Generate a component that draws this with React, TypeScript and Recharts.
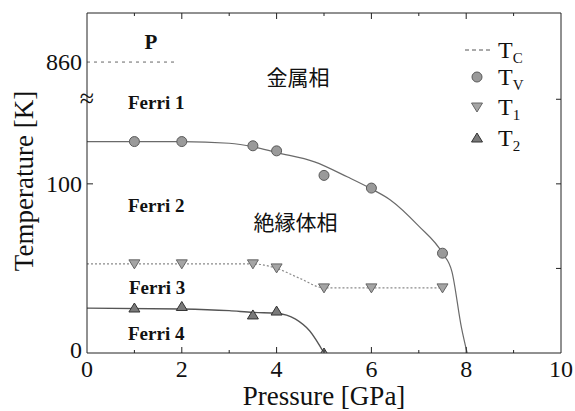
import React from 'react';
import { ComposedChart, Line, Scatter, XAxis, YAxis, ReferenceDot, Label } from 'recharts';

// ---- data ----
const tvPressure = [1, 2, 3.5, 4, 5, 6, 7.5];
const tvTemp = [125, 125, 122.5, 119.5, 105, 97.5, 59];
const t1Pressure = [1, 2, 3.5, 4, 5, 6, 7.5];
const t1Temp = [52.7, 52.7, 52.7, 50.3, 38.5, 38.5, 38.5];
const t2Pressure = [1, 2, 3.5, 4, 5];
const t2Temp = [26.6, 27.5, 22.5, 24.8, 0];

const tvCurveP = [0, 2, 3, 3.5, 4, 4.8, 5.5, 6, 6.4, 7, 7.5, 7.7, 7.9, 8.02];
const tvCurveT = [125, 125, 124, 122, 118.5, 113, 104, 97, 90.5, 75, 59, 48, 15, 0];
const t1CurveP = [0, 3.5, 4, 4.5, 5, 7.5];
const t1CurveT = [52.7, 52.7, 50, 44, 38.5, 38.5];
const t2CurveP = [0, 2, 3, 3.5, 4, 4.4, 4.7, 5];
const t2CurveT = [26.5, 26, 25, 24, 23.5, 20, 13, 0];
const tcPressure = [0, 1.85];
const tcTemp = [860, 860];

const xTicks = [0, 1, 2, 3, 4, 5, 6, 7, 8, 9, 10];
const yTickValues = [0, 100, 150, 860];
const yTickLabels = ['0', '100', '≈', '860'];
const rightTickValues = [50, 100, 150];

const phaseLabels = [
  { text: 'P', p: 1.35, t: 184, size: 21, bold: true, jp: false },
  { text: 'Ferri 1', p: 1.46, t: 148.5, size: 19, bold: true, jp: false },
  { text: 'Ferri 2', p: 1.46, t: 87.6, size: 19, bold: true, jp: false },
  { text: 'Ferri 3', p: 1.48, t: 39, size: 19, bold: true, jp: false },
  { text: 'Ferri 4', p: 1.46, t: 11.8, size: 19, bold: true, jp: false },
  { text: '金属相', p: 4.45, t: 162.7, size: 21, bold: false, jp: true },
  { text: '絶縁体相', p: 4.4, t: 77, size: 21, bold: false, jp: true },
];

// broken axis: values above the break are shifted down so 860 sits just under the top
const toAxis = (t: number) => (t > 200 ? t - 688 : t);
const zip = (ps: number[], ts: number[]) => ps.map((p, i) => ({ p, t: toAxis(ts[i]) }));

const tvData = zip(tvPressure, tvTemp);
const t1Data = zip(t1Pressure, t1Temp);
const t2Data = zip(t2Pressure, t2Temp);
const tvCurve = zip(tvCurveP, tvCurveT);
const t1Curve = zip(t1CurveP, t1CurveT);
const t2Curve = zip(t2CurveP, t2CurveT);
const tcData = zip(tcPressure, tcTemp);
const yTicks = yTickValues.map(toAxis);

const SERIF = "'Liberation Serif', 'Times New Roman', Times, serif";
const JP = "'Noto Sans CJK JP', sans-serif";
const AXIS = '#222';

const BottomTick = (props: any) => {
  const { x, y, payload } = props;
  const v = payload.value;
  const axisY = y - 2;
  const major = v % 2 === 0;
  return (
    <g>
      {v > 0 && v < 10 && (
        <line x1={x} x2={x} y1={axisY} y2={axisY - (major ? 6 : 3)} stroke={AXIS} strokeWidth={1} />
      )}
      {major && (
        <text x={x} y={axisY + 24} textAnchor="middle" style={{ fontFamily: SERIF }} fontSize={24} fill="#111">
          {v}
        </text>
      )}
    </g>
  );
};

const TopTick = (props: any) => {
  const { x, y, payload } = props;
  const v = payload.value;
  if (v <= 0 || v >= 10) return <g />;
  const major = v % 2 === 0;
  return <line x1={x} x2={x} y1={y} y2={y + (major ? 6 : 3)} stroke={AXIS} strokeWidth={1} />;
};

const LeftTick = (props: any) => {
  const { x, y, payload } = props;
  const v = payload.value;
  const axisX = x + 4;
  const idx = yTicks.indexOf(v);
  const label = idx >= 0 ? yTickLabels[idx] : '';
  if (label === '≈') {
    return (
      <text x={axisX} y={y + 8} textAnchor="middle" style={{ fontFamily: SERIF }} fontSize={26} fill="#111">
        {label}
      </text>
    );
  }
  return (
    <g>
      {v === 100 && <line x1={axisX} x2={axisX + 6} y1={y} y2={y} stroke={AXIS} strokeWidth={1} />}
      <text
        x={axisX - 5}
        y={y + (v === 0 ? 5 : 8)}
        textAnchor="end"
        style={{ fontFamily: SERIF }}
        fontSize={24}
        fill="#111"
      >
        {label}
      </text>
    </g>
  );
};

const RightTick = (props: any) => {
  const { x, y } = props;
  return <line x1={x} x2={x - 5} y1={y} y2={y} stroke={AXIS} strokeWidth={1} />;
};

const CircleMark = (props: any) => {
  const { cx, cy } = props;
  if (cx == null || cy == null) return <g />;
  return <circle cx={cx} cy={cy} r={5} fill="#9a9a9a" stroke="#5a5a5a" strokeWidth={1} />;
};
const DownTri = (props: any) => {
  const { cx, cy } = props;
  if (cx == null || cy == null) return <g />;
  return (
    <polygon
      points={`${cx - 5.5},${cy - 4} ${cx + 5.5},${cy - 4} ${cx},${cy + 5}`}
      fill="#a5a5a5"
      stroke="#666"
      strokeWidth={1}
    />
  );
};
const UpTri = (props: any) => {
  const { cx, cy } = props;
  if (cx == null || cy == null) return <g />;
  return (
    <polygon
      points={`${cx - 5.5},${cy + 4} ${cx + 5.5},${cy + 4} ${cx},${cy - 5}`}
      fill="#7a7a7a"
      stroke="#333"
      strokeWidth={1}
    />
  );
};

const YTitle = (props: any) => {
  const vb = props.viewBox || {};
  const cy = (vb.y || 0) + (vb.height || 0) / 2 - 2;
  const bx = 33;
  return (
    <text
      x={bx}
      y={cy}
      transform={`rotate(-90, ${bx}, ${cy})`}
      textAnchor="middle"
      style={{ fontFamily: SERIF }}
      fontSize={27}
      fill="#111"
    >
      Temperature [K]
    </text>
  );
};

const LegendOverlay = () => {
  const rows = [
    { sub: 'C', base: 58 },
    { sub: 'V', base: 85 },
    { sub: '1', base: 115 },
    { sub: '2', base: 146 },
  ];
  const sx = 477;
  return (
    <svg
      width={575}
      height={411}
      style={{ position: 'absolute', left: 0, top: 0, pointerEvents: 'none' }}
    >
      {rows.map((r, i) => {
        const cy = r.base - 8;
        let sym: any = null;
        if (i === 0)
          sym = <line x1={465} x2={491} y1={cy} y2={cy} stroke="#555" strokeWidth={1} strokeDasharray="4 3" />;
        if (i === 1) sym = <CircleMark cx={sx} cy={cy} />;
        if (i === 2) sym = <DownTri cx={sx} cy={cy} />;
        if (i === 3) sym = <UpTri cx={sx} cy={cy} />;
        return (
          <g key={r.sub}>
            {sym}
            <text x={498} y={r.base} style={{ fontFamily: SERIF }} fontSize={24} fill="#111">
              T
              <tspan fontSize={15} dy={5}>
                {r.sub}
              </tspan>
            </text>
          </g>
        );
      })}
    </svg>
  );
};

export default function App() {
  return (
    <div style={{ position: 'absolute', left: 0, top: 0, width: 575, height: 411, background: '#fff', fontFamily: SERIF }}>
      <ComposedChart width={575} height={411} margin={{ top: 13, right: 14, bottom: 28, left: 27 }}>
        <XAxis
          xAxisId="b"
          type="number"
          dataKey="p"
          domain={[0, 10]}
          ticks={xTicks}
          interval={0}
          allowDataOverflow
          tickLine={false}
          tickSize={0}
          tickMargin={2}
          height={30}
          axisLine={{ stroke: AXIS }}
          tick={<BottomTick />}
        >
          <Label
            value="Pressure [GPa]"
            position="bottom"
            offset={3}
            style={{ fontFamily: SERIF, fontSize: 27, fill: '#111' }}
          />
        </XAxis>
        <XAxis
          xAxisId="t"
          orientation="top"
          mirror
          type="number"
          dataKey="p"
          domain={[0, 10]}
          ticks={xTicks}
          interval={0}
          allowDataOverflow
          tickLine={false}
          tickSize={0}
          tickMargin={0}
          axisLine={{ stroke: AXIS }}
          tick={<TopTick />}
        />
        <YAxis
          yAxisId="l"
          type="number"
          dataKey="t"
          domain={[0, 201]}
          ticks={yTicks}
          interval={0}
          allowDataOverflow
          width={60}
          tickLine={false}
          tickSize={0}
          tickMargin={4}
          axisLine={{ stroke: AXIS }}
          tick={<LeftTick />}
        >
          <Label content={<YTitle />} />
        </YAxis>
        <YAxis
          yAxisId="r"
          orientation="right"
          mirror
          type="number"
          dataKey="t"
          domain={[0, 201]}
          ticks={rightTickValues}
          interval={0}
          allowDataOverflow
          tickLine={false}
          tickSize={0}
          tickMargin={0}
          axisLine={{ stroke: AXIS }}
          tick={<RightTick />}
        />

        <Line
          xAxisId="b"
          yAxisId="l"
          data={tcData}
          dataKey="t"
          type="linear"
          stroke="#666"
          strokeWidth={1}
          strokeDasharray="3 4"
          dot={false}
          activeDot={false}
          isAnimationActive={false}
        />
        <Line
          xAxisId="b"
          yAxisId="l"
          data={tvCurve}
          dataKey="t"
          type="monotone"
          stroke="#6a6a6a"
          strokeWidth={1.2}
          dot={false}
          activeDot={false}
          isAnimationActive={false}
        />
        <Line
          xAxisId="b"
          yAxisId="l"
          data={t1Curve}
          dataKey="t"
          type="monotone"
          stroke="#8a8a8a"
          strokeWidth={1.2}
          strokeDasharray="2 2"
          dot={false}
          activeDot={false}
          isAnimationActive={false}
        />
        <Line
          xAxisId="b"
          yAxisId="l"
          data={t2Curve}
          dataKey="t"
          type="monotone"
          stroke="#555"
          strokeWidth={1.3}
          dot={false}
          activeDot={false}
          isAnimationActive={false}
        />

        <Scatter xAxisId="b" yAxisId="l" data={tvData} dataKey="t" shape={<CircleMark />} isAnimationActive={false} />
        <Scatter xAxisId="b" yAxisId="l" data={t1Data} dataKey="t" shape={<DownTri />} isAnimationActive={false} />
        <Scatter xAxisId="b" yAxisId="l" data={t2Data} dataKey="t" shape={<UpTri />} isAnimationActive={false} />

        {phaseLabels.map((l) => (
          <ReferenceDot
            key={l.text}
            xAxisId="b"
            yAxisId="l"
            x={l.p}
            y={l.t}
            r={0}
            fill="none"
            stroke="none"
            ifOverflow="visible"
            label={{
              value: l.text,
              position: 'center',
              style: { fontFamily: l.jp ? JP : SERIF },
              fontSize: l.size,
              fontWeight: l.bold ? 700 : 400,
              fill: '#111',
            }}
          />
        ))}
      </ComposedChart>
      <LegendOverlay />
    </div>
  );
}
